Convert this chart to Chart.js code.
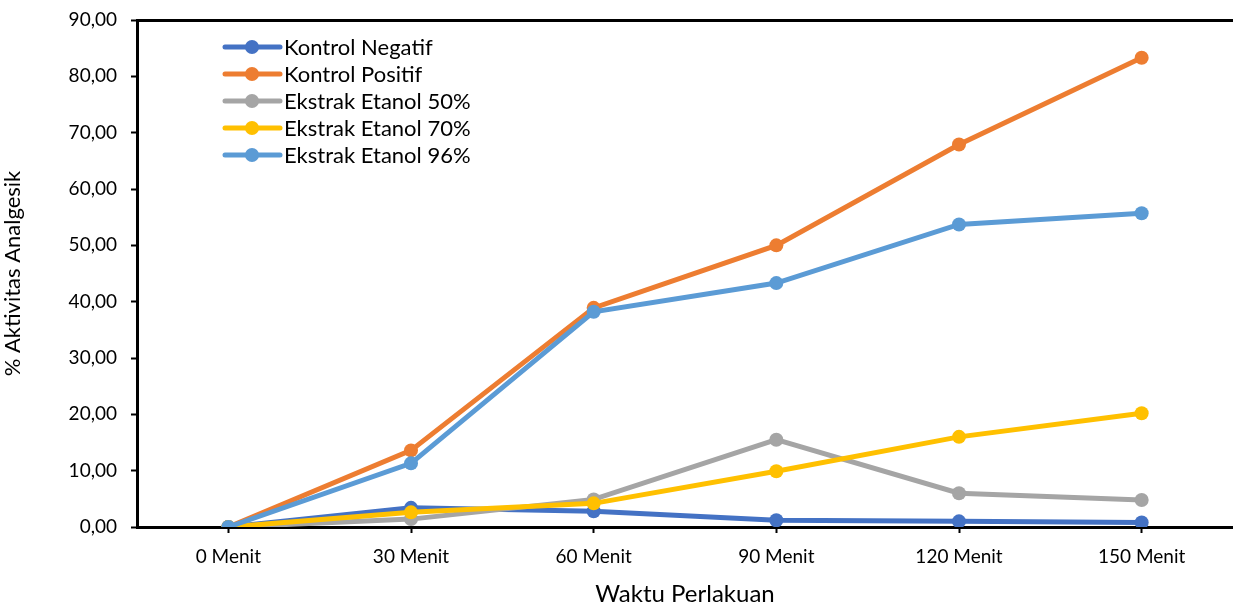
<!DOCTYPE html>
<html>
<head>
<meta charset="utf-8">
<script src="https://cdn.jsdelivr.net/npm/chart.js@4.4.1/dist/chart.umd.min.js"></script>
<style>
  html, body { margin: 0; padding: 0; background: #fff; overflow: hidden; }
  #wrap { width: 1240px; height: 609px; position: relative; }
  canvas { display: block; }
</style>
</head>
<body>
<div id="wrap"><canvas id="graph"></canvas></div>
<script>
var categories = ['0 Menit', '30 Menit', '60 Menit', '90 Menit', '120 Menit', '150 Menit'];
var kontrolNegatif = [0, 3.4, 2.8, 1.2, 1.0, 0.8];
var kontrolPositif = [0, 13.6, 38.9, 50.0, 67.9, 83.3];
var etanol50 = [0, 1.4, 4.9, 15.5, 6.0, 4.8];
var etanol70 = [0, 2.6, 4.2, 9.9, 16.0, 20.2];
var etanol96 = [0, 11.3, 38.2, 43.3, 53.7, 55.7];
var yMin = 0, yMax = 90, yStep = 10;

var FONT = 'Lato, "Open Sans", sans-serif';

function series(label, data, color, order) {
    return {
        label: label,
        data: data,
        borderColor: color,
        backgroundColor: color,
        borderWidth: 5,
        pointRadius: 7,
        pointHoverRadius: 7,
        pointBorderWidth: 0,
        tension: 0,
        order: order
    };
}

// legend drawn inside the plot, like the spreadsheet original
var innerLegend = {
    id: 'innerLegend',
    afterDraw: function(chart) {
        var ctx = chart.ctx;
        var x0 = 225, y0 = 47, rowH = 27;
        ctx.save();
        ctx.font = '22px ' + FONT;
        ctx.textBaseline = 'middle';
        chart.data.datasets.forEach(function(ds, i) {
            var y = y0 + i * rowH;
            ctx.strokeStyle = ds.borderColor;
            ctx.lineWidth = 5;
            ctx.lineCap = 'round';
            ctx.beginPath();
            ctx.moveTo(x0, y);
            ctx.lineTo(x0 + 55, y);
            ctx.stroke();
            ctx.fillStyle = ds.borderColor;
            ctx.beginPath();
            ctx.arc(x0 + 27, y, 7, 0, Math.PI * 2);
            ctx.fill();
            ctx.fillStyle = '#000';
            ctx.fillText(ds.label, x0 + 59, y + 1);
        });
        ctx.restore();
    }
};

var ctx = document.getElementById('graph');
new Chart(ctx, {
    type: 'line',
    data: {
        labels: categories,
        datasets: [
            series('Kontrol Negatif', kontrolNegatif, '#4472C4', 5),
            series('Kontrol Positif', kontrolPositif, '#ED7D31', 4),
            series('Ekstrak Etanol 50%', etanol50, '#A5A5A5', 3),
            series('Ekstrak Etanol 70%', etanol70, '#FFC000', 2),
            series('Ekstrak Etanol 96%', etanol96, '#5B9BD5', 1)
        ]
    },
    plugins: [innerLegend],
    options: {
        responsive: true,
        maintainAspectRatio: false,
        animation: false,
        layout: { padding: { top: 20, right: 0, left: 0, bottom: 0 } },
        plugins: {
            legend: { display: false },
            tooltip: { enabled: false }
        },
        scales: {
            x: {
                offset: true,
                afterFit: function(s) {
                    s.height = 82;
                    s.paddingLeft = 0;
                    s.paddingRight = 0;
                },
                border: { display: true, width: 3, color: '#000' },
                grid: {
                    offset: false,
                    drawOnChartArea: false,
                    drawTicks: true,
                    tickLength: 6,
                    tickWidth: 2,
                    tickColor: '#000'
                },
                ticks: {
                    color: '#000',
                    padding: 12,
                    maxRotation: 0,
                    font: { family: FONT, size: 19 }
                },
                title: {
                    display: true,
                    text: 'Waktu Perlakuan',
                    color: '#000',
                    padding: { top: 4, bottom: 0 },
                    font: { family: FONT, size: 24 }
                }
            },
            y: {
                min: yMin,
                max: yMax,
                afterFit: function(s) {
                    s.width = 137;
                    s.paddingTop = 0;
                    s.paddingBottom = 0;
                },
                border: { display: true, width: 3, color: '#000' },
                grid: {
                    drawTicks: true,
                    tickLength: 6,
                    tickWidth: 2,
                    tickColor: '#000',
                    lineWidth: 3,
                    color: function(c) {
                        return c.tick && c.tick.value === yMax ? '#000' : 'rgba(0,0,0,0)';
                    }
                },
                ticks: {
                    stepSize: yStep,
                    color: '#000',
                    padding: 14,
                    font: { family: FONT, size: 19 },
                    callback: function(v) {
                        return v.toFixed(2).replace('.', ',');
                    }
                },
                title: {
                    display: true,
                    text: '% Aktivitas Analgesik',
                    color: '#000',
                    padding: { top: 0, bottom: 6 },
                    font: { family: FONT, size: 22 }
                }
            }
        }
    }
});
</script>
</body>
</html>
